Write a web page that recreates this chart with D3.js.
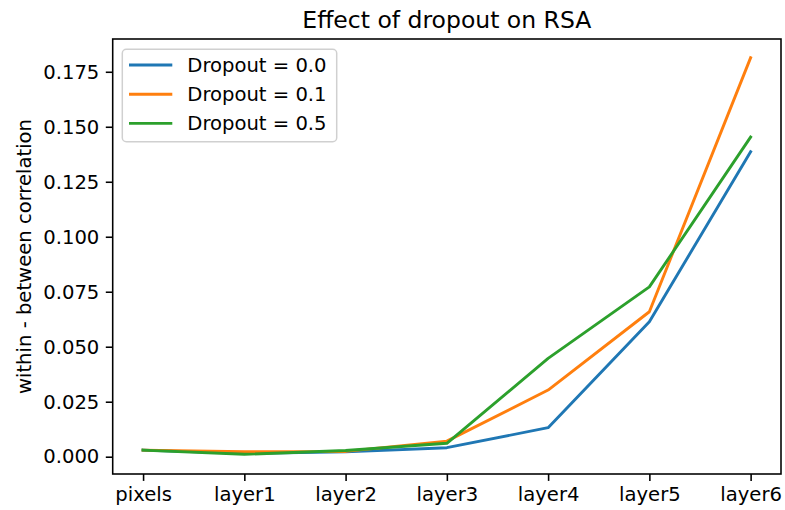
<!DOCTYPE html>
<html>
<head>
<meta charset="utf-8">
<script src="https://cdn.jsdelivr.net/npm/d3@7"></script>
<style>
  body { margin: 0; background: #fff; }
  svg { display: block; font-family: "DejaVu Sans", sans-serif; }
</style>
</head>
<body>
<svg id="chart" width="785" height="510"></svg>
<script>
const categories = ["pixels", "layer1", "layer2", "layer3", "layer4", "layer5", "layer6"];
const dropout00 = [0.0030, 0.0015, 0.0022, 0.0041, 0.0132, 0.0614, 0.1386];
const dropout01 = [0.0030, 0.0023, 0.0024, 0.0071, 0.0303, 0.0659, 0.1814];
const dropout05 = [0.0030, 0.0011, 0.0028, 0.0061, 0.0447, 0.0772, 0.1453];
const seriesNames = ["Dropout = 0.0", "Dropout = 0.1", "Dropout = 0.5"];
const seriesColors = ["#1f77b4", "#ff7f0e", "#2ca02c"];
const yTicks = [0.000, 0.025, 0.050, 0.075, 0.100, 0.125, 0.150, 0.175];

const series = [dropout00, dropout01, dropout05];

const svg = d3.select("#chart");
const margin = {left: 112.7, right: 785 - 781, top: 39, bottom: 510 - 474};
const W = 785, H = 510;

const x = d3.scaleLinear().domain([-0.3, categories.length - 1 + 0.3])
  .range([margin.left, W - margin.right]);
const y = d3.scaleLinear().domain([-0.00786, 0.1899])
  .range([H - margin.bottom, margin.top]);

const fs = 19.6;

// lines
const line = d3.line().x((d, i) => x(i)).y(d => y(d));
series.forEach((s, k) => {
  svg.append("path").datum(s)
    .attr("d", line)
    .attr("fill", "none")
    .attr("stroke", seriesColors[k])
    .attr("stroke-width", 2.9)
    .attr("stroke-linejoin", "round")
    .attr("stroke-linecap", "square");
});

// axes
const xAxis = d3.axisBottom(x)
  .tickValues(d3.range(categories.length))
  .tickFormat(i => categories[i])
  .tickSize(6.9).tickPadding(6.5);
const yAxis = d3.axisLeft(y)
  .tickValues(yTicks)
  .tickFormat(d3.format(".3f"))
  .tickSize(6.9).tickPadding(6.5);

const gx = svg.append("g").attr("transform", `translate(0,${H - margin.bottom})`).call(xAxis);
const gy = svg.append("g").attr("transform", `translate(${margin.left},0)`).call(yAxis);
[gx, gy].forEach(g => {
  g.select(".domain").remove();
  g.selectAll(".tick line").attr("stroke", "#000").attr("stroke-width", 1.57);
  g.selectAll(".tick text").attr("font-size", fs).attr("fill", "#000")
    .attr("font-family", "DejaVu Sans");
});

// frame
svg.append("rect")
  .attr("x", margin.left).attr("y", margin.top)
  .attr("width", W - margin.right - margin.left)
  .attr("height", H - margin.bottom - margin.top)
  .attr("fill", "none").attr("stroke", "#000").attr("stroke-width", 1.57);

// title
svg.append("text")
  .attr("x", (margin.left + W - margin.right) / 2).attr("y", 28)
  .attr("text-anchor", "middle").attr("font-size", 23.5).attr("fill", "#000")
  .text("Effect of dropout on RSA");

// y label
svg.append("text")
  .attr("transform", `translate(31,${(margin.top + H - margin.bottom) / 2}) rotate(-90)`)
  .attr("text-anchor", "middle").attr("font-size", fs).attr("fill", "#000")
  .text("within - between correlation");

// legend
const lg = svg.append("g");
lg.append("rect")
  .attr("x", 122.3).attr("y", 49.3).attr("width", 214.4).attr("height", 92.4)
  .attr("rx", 4).attr("ry", 4)
  .attr("fill", "#fff").attr("fill-opacity", 0.8)
  .attr("stroke", "#d0d0d0").attr("stroke-width", 1.5);
seriesNames.forEach((name, k) => {
  const yy = 65 + k * 29.2;
  lg.append("line").attr("x1", 129).attr("x2", 172.3).attr("y1", yy).attr("y2", yy)
    .attr("stroke", seriesColors[k]).attr("stroke-width", 2.9);
  lg.append("text").attr("x", 187.3).attr("y", yy).attr("dy", "0.35em")
    .attr("font-size", fs).attr("fill", "#000").text(name);
});
</script>
</body>
</html>
